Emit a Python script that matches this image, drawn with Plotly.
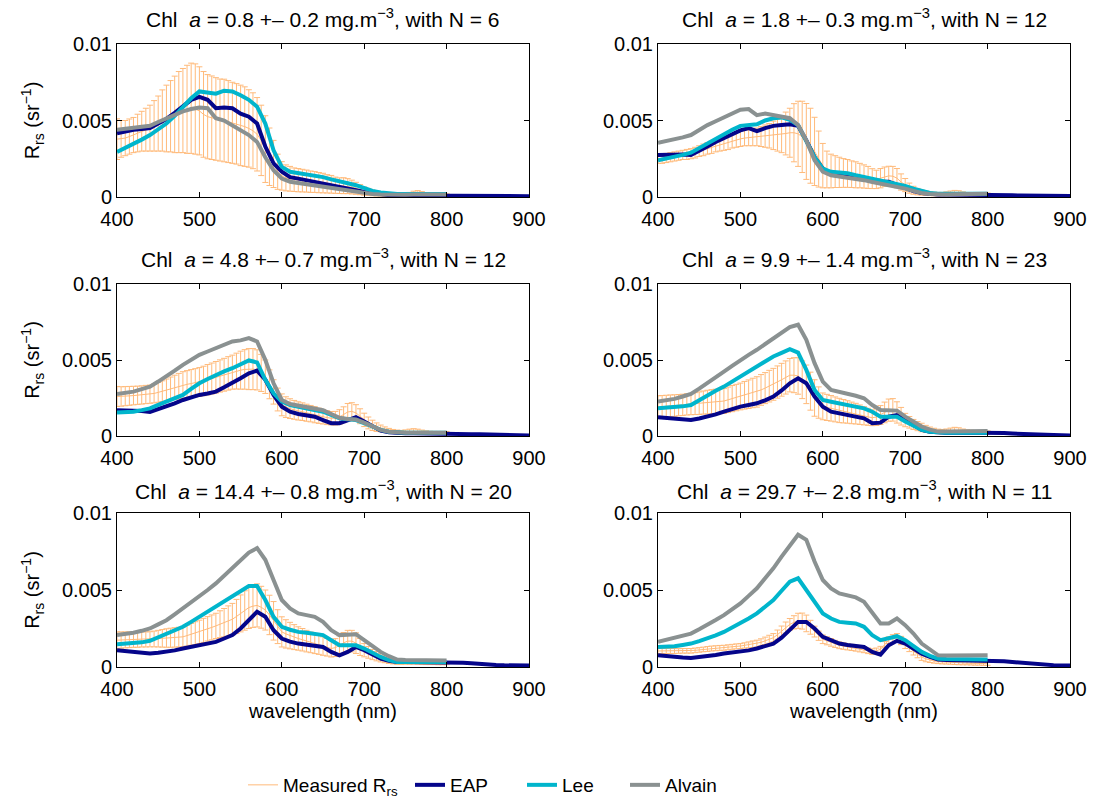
import numpy as np
import plotly.graph_objects as go

# ---------------- data (Rrs values in units of 1e-3 sr^-1) ----------------
SCALE = 1e-3
wl_meas = list(range(400, 805, 5))      # measured spectra, 5 nm
wl_model = list(range(400, 810, 10))    # Lee / Alvain, 10 nm
wl_eap = list(range(400, 910, 10))      # EAP, 10 nm up to 900

chl_mean = [0.8, 1.8, 4.8, 9.9, 14.4, 29.7]
chl_sd = [0.2, 0.3, 0.7, 1.4, 0.8, 2.8]
n_samples = [6, 12, 12, 23, 20, 11]

x_ticks = [400, 500, 600, 700, 800, 900]
y_ticks = [0, 0.005, 0.01]
y_ticktext = ["0", "0.005", "0.01"]

# ---- panel 1 ----
meas_mean_1 = [3.78, 3.8, 3.85, 3.95, 4.05, 4.18, 4.3, 4.4, 4.5, 4.65,
               4.8, 5.0, 5.13, 5.28, 5.4, 5.55, 5.65, 5.73, 5.8, 5.75,
               5.63, 5.4, 5.25, 5.18, 5.1, 5.03, 5.0, 4.93, 4.85, 4.78,
               4.68, 4.6, 4.48, 4.33, 4.1, 3.7, 3.13, 2.63, 2.16, 1.65,
               1.38, 1.25, 1.19, 1.13, 1.1, 1.07, 1.04, 1.0, 0.98, 0.94,
               0.91, 0.86, 0.83, 0.77, 0.74, 0.74, 0.71, 0.65, 0.57, 0.48,
               0.39, 0.33, 0.27, 0.22, 0.18, 0.16, 0.15, 0.14, 0.14, 0.14,
               0.15, 0.18, 0.22, 0.24, 0.2, 0.17, 0.15, 0.14, 0.13, 0.13,
               0.13]
meas_std_1 = [1.33, 1.2, 1.15, 1.15, 1.15, 1.23, 1.3, 1.4, 1.5, 1.65,
              1.8, 2.0, 2.18, 2.33, 2.5, 2.65, 2.75, 2.88, 2.95, 2.95,
              2.88, 2.8, 2.75, 2.73, 2.7, 2.68, 2.7, 2.68, 2.65, 2.63,
              2.63, 2.6, 2.53, 2.48, 2.4, 2.3, 2.18, 1.88, 1.54, 1.15,
              0.93, 0.85, 0.81, 0.77, 0.76, 0.74, 0.72, 0.7, 0.68, 0.66,
              0.64, 0.6, 0.58, 0.53, 0.51, 0.52, 0.49, 0.45, 0.39, 0.33,
              0.27, 0.23, 0.19, 0.15, 0.12, 0.11, 0.1, 0.09, 0.09, 0.09,
              0.1, 0.12, 0.16, 0.18, 0.15, 0.12, 0.1, 0.09, 0.08, 0.08,
              0.08]
eap_1 = [4.16, 4.3, 4.4, 4.45, 4.5, 4.8, 5.1, 5.5, 5.9, 6.35,
         6.55, 6.35, 5.8, 5.85, 5.8, 5.45, 5.25, 4.8, 3.3, 2.2,
         1.65, 1.3, 1.2, 1.1, 1.0, 0.9, 0.77, 0.65, 0.55, 0.45,
         0.33, 0.24, 0.17, 0.12, 0.1, 0.1, 0.1, 0.1, 0.1, 0.1,
         0.1, 0.09, 0.08, 0.07, 0.07, 0.06, 0.06, 0.05, 0.05, 0.05,
         0.05]
lee_1 = [2.95, 3.2, 3.5, 3.75, 4.05, 4.4, 4.8, 5.3, 5.9, 6.45,
         6.9, 6.85, 6.75, 6.95, 6.9, 6.65, 6.35, 5.9, 4.8, 3.05,
         1.97, 1.65, 1.57, 1.5, 1.42, 1.3, 1.15, 1.0, 0.9, 0.77,
         0.58, 0.4, 0.3, 0.22, 0.2, 0.2, 0.2, 0.2, 0.2, 0.2,
         0.2]
alvain_1 = [4.4, 4.45, 4.55, 4.6, 4.65, 4.9, 5.15, 5.4, 5.6, 5.75,
            5.85, 5.8, 5.15, 5.0, 4.7, 4.4, 4.05, 3.6, 2.6, 1.75,
            1.2, 1.0, 0.92, 0.85, 0.77, 0.66, 0.55, 0.5, 0.44, 0.35,
            0.26, 0.2, 0.17, 0.15, 0.15, 0.15, 0.16, 0.16, 0.17, 0.17,
            0.17]

# ---- panel 2 ----
meas_mean_2 = [2.48, 2.5, 2.55, 2.6, 2.65, 2.7, 2.75, 2.78, 2.83, 2.9,
               3.0, 3.08, 3.18, 3.25, 3.35, 3.43, 3.5, 3.58, 3.68, 3.75,
               3.8, 3.85, 3.88, 3.9, 3.93, 3.95, 3.98, 4.0, 4.03, 4.05,
               4.1, 4.15, 4.2, 4.2, 4.13, 3.93, 3.63, 3.35, 2.98, 2.48,
               2.05, 1.8, 1.7, 1.66, 1.61, 1.57, 1.54, 1.49, 1.45, 1.4,
               1.34, 1.28, 1.2, 1.15, 1.23, 1.33, 1.38, 1.36, 1.23, 0.98,
               0.78, 0.58, 0.44, 0.35, 0.29, 0.25, 0.22, 0.2, 0.19, 0.19,
               0.21, 0.24, 0.26, 0.25, 0.21, 0.18, 0.17, 0.17, 0.17, 0.17,
               0.17]
meas_std_2 = [0.28, 0.3, 0.3, 0.3, 0.3, 0.3, 0.3, 0.33, 0.33, 0.35,
              0.35, 0.38, 0.38, 0.4, 0.4, 0.43, 0.45, 0.48, 0.48, 0.5,
              0.5, 0.5, 0.53, 0.55, 0.58, 0.65, 0.73, 0.8, 0.93, 1.05,
              1.2, 1.4, 1.6, 1.9, 2.13, 2.33, 2.48, 2.45, 2.23, 1.83,
              1.45, 1.2, 1.1, 1.04, 0.99, 0.94, 0.91, 0.87, 0.85, 0.8,
              0.76, 0.72, 0.65, 0.6, 0.63, 0.63, 0.63, 0.64, 0.63, 0.53,
              0.43, 0.33, 0.26, 0.21, 0.17, 0.15, 0.13, 0.12, 0.11, 0.11,
              0.13, 0.15, 0.17, 0.16, 0.13, 0.1, 0.09, 0.09, 0.09, 0.09,
              0.09]
eap_2 = [2.75, 2.78, 2.8, 2.78, 2.75, 3.0, 3.3, 3.6, 3.85, 4.1,
         4.35, 4.5, 4.3, 4.5, 4.65, 4.7, 4.75, 4.65, 3.7, 2.6,
         1.85, 1.55, 1.45, 1.35, 1.27, 1.2, 1.1, 1.0, 1.0, 0.77,
         0.55, 0.38, 0.26, 0.2, 0.17, 0.17, 0.17, 0.17, 0.17, 0.17,
         0.17, 0.15, 0.13, 0.11, 0.1, 0.09, 0.08, 0.07, 0.07, 0.06,
         0.06]
lee_2 = [2.4, 2.5, 2.6, 2.75, 2.9, 3.2, 3.5, 3.85, 4.15, 4.4,
         4.65, 4.7, 4.75, 5.0, 5.15, 5.2, 5.05, 4.7, 3.7, 2.6,
         1.85, 1.65, 1.6, 1.55, 1.42, 1.3, 1.18, 1.05, 0.95, 0.87,
         0.72, 0.55, 0.4, 0.26, 0.22, 0.22, 0.22, 0.22, 0.22, 0.22,
         0.22]
alvain_2 = [3.55, 3.65, 3.75, 3.9, 4.05, 4.4, 4.7, 4.95, 5.2, 5.45,
            5.7, 5.75, 5.35, 5.45, 5.35, 5.25, 5.15, 4.7, 3.7, 2.4,
            1.65, 1.42, 1.35, 1.27, 1.18, 1.1, 0.98, 0.87, 0.78, 0.7,
            0.55, 0.4, 0.26, 0.2, 0.15, 0.16, 0.18, 0.19, 0.2, 0.21,
            0.22]

# ---- panel 3 ----
meas_mean_3 = [2.6, 2.6, 2.62, 2.64, 2.66, 2.68, 2.7, 2.73, 2.75, 2.8,
               2.87, 2.95, 3.03, 3.12, 3.2, 3.28, 3.35, 3.4, 3.45, 3.5,
               3.55, 3.62, 3.7, 3.78, 3.86, 3.95, 4.03, 4.12, 4.2, 4.27,
               4.33, 4.38, 4.4, 4.4, 4.35, 4.15, 3.9, 3.4, 2.9, 2.4,
               2.05, 1.9, 1.8, 1.72, 1.65, 1.6, 1.53, 1.47, 1.4, 1.33,
               1.27, 1.21, 1.17, 1.17, 1.25, 1.4, 1.58, 1.62, 1.52, 1.3,
               1.06, 0.86, 0.7, 0.58, 0.5, 0.42, 0.35, 0.3, 0.27, 0.26,
               0.28, 0.31, 0.33, 0.31, 0.27, 0.24, 0.22, 0.21, 0.21, 0.21,
               0.21]
meas_std_3 = [0.66, 0.64, 0.63, 0.62, 0.61, 0.6, 0.6, 0.6, 0.6, 0.62,
              0.65, 0.68, 0.72, 0.76, 0.8, 0.84, 0.88, 0.9, 0.92, 0.93,
              0.95, 0.97, 1.0, 1.02, 1.04, 1.06, 1.08, 1.1, 1.12, 1.18,
              1.25, 1.3, 1.35, 1.35, 1.32, 1.22, 1.1, 0.95, 0.8, 0.75,
              0.72, 0.68, 0.65, 0.62, 0.6, 0.58, 0.56, 0.54, 0.53, 0.5,
              0.48, 0.46, 0.44, 0.45, 0.48, 0.52, 0.56, 0.57, 0.54, 0.49,
              0.44, 0.39, 0.34, 0.28, 0.22, 0.18, 0.15, 0.13, 0.12, 0.11,
              0.12, 0.14, 0.15, 0.14, 0.12, 0.1, 0.09, 0.09, 0.09, 0.09,
              0.09]
eap_3 = [1.7, 1.7, 1.7, 1.65, 1.58, 1.75, 1.93, 2.15, 2.37, 2.55,
         2.7, 2.8, 2.92, 3.2, 3.47, 3.8, 4.13, 4.3, 3.7, 2.7,
         1.93, 1.6, 1.45, 1.35, 1.27, 1.05, 0.84, 0.84, 1.05, 1.23,
         0.95, 0.62, 0.35, 0.24, 0.18, 0.18, 0.18, 0.18, 0.18, 0.18,
         0.18, 0.16, 0.14, 0.12, 0.11, 0.09, 0.08, 0.06, 0.05, 0.05,
         0.04]
lee_3 = [1.54, 1.57, 1.6, 1.7, 1.82, 2.05, 2.26, 2.5, 2.7, 3.1,
         3.47, 3.75, 4.02, 4.25, 4.46, 4.7, 4.97, 4.84, 3.7, 2.81,
         2.26, 2.04, 1.93, 1.82, 1.71, 1.6, 1.38, 1.16, 1.1, 1.05,
         0.84, 0.62, 0.4, 0.28, 0.22, 0.22, 0.22, 0.22, 0.22, 0.22,
         0.22]
alvain_3 = [2.77, 2.85, 2.92, 3.08, 3.25, 3.58, 3.91, 4.3, 4.68, 5.0,
            5.34, 5.56, 5.78, 5.93, 6.22, 6.29, 6.44, 6.22, 5.01, 3.47,
            2.37, 2.1, 2.0, 1.9, 1.8, 1.7, 1.45, 1.2, 1.12, 1.08,
            0.88, 0.64, 0.4, 0.28, 0.22, 0.22, 0.22, 0.22, 0.22, 0.22,
            0.22]

# ---- panel 4 ----
meas_mean_4 = [1.9, 1.92, 1.95, 1.98, 2.0, 2.03, 2.05, 2.08, 2.1, 2.13,
               2.16, 2.2, 2.23, 2.25, 2.27, 2.29, 2.3, 2.38, 2.46, 2.53,
               2.6, 2.68, 2.75, 2.83, 2.9, 3.03, 3.15, 3.28, 3.4, 3.55,
               3.7, 3.85, 4.0, 4.0, 3.95, 3.7, 3.4, 2.95, 2.5, 2.2,
               1.95, 1.88, 1.82, 1.75, 1.68, 1.63, 1.58, 1.52, 1.47, 1.4,
               1.33, 1.26, 1.2, 1.25, 1.38, 1.55, 1.7, 1.72, 1.55, 1.3,
               1.05, 0.9, 0.76, 0.65, 0.56, 0.47, 0.4, 0.34, 0.3, 0.29,
               0.31, 0.35, 0.38, 0.36, 0.31, 0.28, 0.26, 0.25, 0.25, 0.24,
               0.24]
meas_std_4 = [0.75, 0.74, 0.73, 0.72, 0.71, 0.7, 0.7, 0.7, 0.7, 0.72,
              0.74, 0.76, 0.78, 0.8, 0.81, 0.82, 0.82, 0.84, 0.86, 0.87,
              0.88, 0.91, 0.94, 0.97, 1.0, 1.01, 1.02, 1.04, 1.05, 1.06,
              1.08, 1.09, 1.1, 1.15, 1.2, 1.24, 1.27, 1.25, 1.2, 1.03,
              0.88, 0.86, 0.84, 0.82, 0.8, 0.77, 0.74, 0.71, 0.68, 0.64,
              0.6, 0.56, 0.52, 0.56, 0.62, 0.68, 0.73, 0.74, 0.7, 0.58,
              0.44, 0.38, 0.33, 0.3, 0.28, 0.23, 0.19, 0.17, 0.15, 0.14,
              0.15, 0.17, 0.19, 0.18, 0.15, 0.13, 0.12, 0.11, 0.11, 0.1,
              0.1]
eap_4 = [1.23, 1.2, 1.16, 1.1, 1.05, 1.15, 1.27, 1.42, 1.6, 1.77,
         1.93, 2.04, 2.15, 2.35, 2.59, 3.0, 3.47, 3.8, 3.47, 2.59,
         1.93, 1.6, 1.48, 1.38, 1.27, 1.16, 0.84, 0.88, 1.27, 1.38,
         1.05, 0.7, 0.4, 0.28, 0.22, 0.22, 0.23, 0.23, 0.24, 0.24,
         0.24, 0.22, 0.19, 0.16, 0.13, 0.11, 0.09, 0.07, 0.06, 0.05,
         0.04]
lee_4 = [1.82, 1.85, 1.89, 1.95, 2.04, 2.37, 2.7, 2.98, 3.25, 3.58,
         3.91, 4.24, 4.57, 4.9, 5.23, 5.47, 5.71, 5.49, 4.35, 3.03,
         2.37, 2.25, 2.15, 2.06, 1.98, 1.82, 1.6, 1.27, 1.27, 1.27,
         0.95, 0.65, 0.4, 0.28, 0.22, 0.22, 0.22, 0.22, 0.22, 0.22,
         0.22]
alvain_4 = [2.26, 2.35, 2.44, 2.6, 2.77, 3.12, 3.47, 3.85, 4.24, 4.62,
            5.01, 5.34, 5.67, 6.05, 6.44, 6.8, 7.16, 7.32, 6.33, 4.79,
            3.58, 3.03, 2.92, 2.81, 2.65, 2.48, 2.04, 1.71, 1.69, 1.67,
            1.27, 0.95, 0.62, 0.42, 0.29, 0.3, 0.31, 0.32, 0.32, 0.33,
            0.33]

# ---- panel 5 ----
meas_mean_5 = [1.74, 1.75, 1.76, 1.77, 1.78, 1.78, 1.79, 1.79, 1.8, 1.82,
               1.84, 1.86, 1.88, 1.9, 1.92, 1.94, 1.96, 2.04, 2.12, 2.2,
               2.28, 2.38, 2.48, 2.57, 2.67, 2.78, 2.88, 2.99, 3.1, 3.28,
               3.48, 3.67, 3.86, 3.95, 4.0, 3.88, 3.7, 3.38, 3.0, 2.62,
               2.28, 2.15, 2.04, 1.94, 1.85, 1.77, 1.68, 1.6, 1.52, 1.44,
               1.36, 1.28, 1.2, 1.26, 1.4, 1.57, 1.68, 1.68, 1.55, 1.3,
               1.09, 0.95, 0.81, 0.7, 0.6, 0.5, 0.41, 0.35, 0.3, 0.29,
               0.3, 0.31, 0.32, 0.31, 0.29, 0.27, 0.26, 0.26, 0.25, 0.25,
               0.25]
meas_std_5 = [0.54, 0.53, 0.52, 0.51, 0.5, 0.5, 0.49, 0.49, 0.49, 0.51,
              0.54, 0.57, 0.6, 0.62, 0.63, 0.64, 0.65, 0.68, 0.71, 0.74,
              0.76, 0.78, 0.79, 0.81, 0.82, 0.87, 0.92, 0.98, 1.03, 1.11,
              1.2, 1.28, 1.36, 1.38, 1.4, 1.36, 1.3, 1.28, 1.25, 1.1,
              0.98, 0.92, 0.86, 0.81, 0.76, 0.73, 0.7, 0.67, 0.65, 0.62,
              0.6, 0.57, 0.55, 0.58, 0.62, 0.67, 0.7, 0.7, 0.67, 0.55,
              0.43, 0.38, 0.33, 0.3, 0.27, 0.22, 0.18, 0.15, 0.13, 0.12,
              0.12, 0.13, 0.13, 0.13, 0.12, 0.11, 0.1, 0.1, 0.1, 0.1,
              0.1]
eap_5 = [1.09, 1.03, 0.98, 0.92, 0.87, 0.92, 0.98, 1.08, 1.2, 1.3,
         1.41, 1.52, 1.63, 1.85, 2.07, 2.5, 3.04, 3.59, 3.26, 2.39,
         1.85, 1.65, 1.52, 1.45, 1.41, 1.3, 0.98, 0.76, 0.98, 1.3,
         1.09, 0.8, 0.54, 0.4, 0.33, 0.33, 0.33, 0.33, 0.33, 0.33,
         0.33, 0.33, 0.28, 0.24, 0.19, 0.15, 0.13, 0.11, 0.1, 0.09,
         0.09]
lee_5 = [1.48, 1.5, 1.52, 1.6, 1.7, 1.93, 2.17, 2.39, 2.61, 2.93,
         3.26, 3.58, 3.91, 4.24, 4.57, 4.91, 5.26, 5.26, 4.35, 3.26,
         2.61, 2.42, 2.28, 2.22, 2.17, 2.07, 1.74, 1.41, 1.41, 1.41,
         1.2, 0.92, 0.65, 0.45, 0.33, 0.33, 0.33, 0.33, 0.33, 0.33,
         0.33]
alvain_5 = [2.07, 2.14, 2.22, 2.35, 2.5, 2.77, 3.04, 3.42, 3.8, 4.18,
            4.57, 5.0, 5.43, 5.92, 6.41, 6.92, 7.43, 7.72, 6.96, 5.65,
            4.35, 3.8, 3.48, 3.37, 3.26, 2.93, 2.39, 2.07, 2.1, 2.13,
            1.74, 1.35, 0.98, 0.7, 0.48, 0.46, 0.45, 0.44, 0.44, 0.43,
            0.43]

# ---- panel 6 ----
meas_mean_6 = [1.04, 1.04, 1.04, 1.04, 1.04, 1.04, 1.05, 1.05, 1.05, 1.08,
               1.11, 1.14, 1.17, 1.2, 1.22, 1.24, 1.25, 1.28, 1.31, 1.34,
               1.36, 1.4, 1.44, 1.48, 1.52, 1.6, 1.7, 1.8, 1.9, 2.1,
               2.33, 2.56, 2.77, 2.9, 3.0, 2.98, 2.83, 2.58, 2.3, 2.03,
               1.8, 1.7, 1.6, 1.5, 1.41, 1.36, 1.31, 1.27, 1.22, 1.17,
               1.11, 1.05, 1.0, 1.05, 1.15, 1.45, 1.74, 1.85, 1.9, 1.72,
               1.47, 1.25, 1.02, 0.83, 0.65, 0.53, 0.45, 0.39, 0.35, 0.33,
               0.31, 0.3, 0.28, 0.27, 0.26, 0.25, 0.24, 0.23, 0.23, 0.22,
               0.22]
meas_std_6 = [0.17, 0.17, 0.16, 0.16, 0.16, 0.15, 0.15, 0.15, 0.15, 0.15,
              0.15, 0.15, 0.16, 0.16, 0.16, 0.16, 0.16, 0.16, 0.16, 0.16,
              0.16, 0.17, 0.19, 0.21, 0.22, 0.23, 0.24, 0.26, 0.27, 0.3,
              0.33, 0.36, 0.38, 0.43, 0.49, 0.52, 0.54, 0.45, 0.35, 0.3,
              0.28, 0.26, 0.25, 0.23, 0.22, 0.21, 0.2, 0.2, 0.19, 0.19,
              0.18, 0.18, 0.18, 0.18, 0.19, 0.2, 0.22, 0.25, 0.27, 0.27,
              0.27, 0.25, 0.24, 0.23, 0.22, 0.19, 0.16, 0.14, 0.13, 0.13,
              0.12, 0.12, 0.12, 0.12, 0.12, 0.11, 0.11, 0.11, 0.11, 0.11,
              0.11]
eap_6 = [0.76, 0.7, 0.65, 0.62, 0.59, 0.64, 0.7, 0.78, 0.87, 0.93,
         0.98, 1.08, 1.2, 1.35, 1.52, 1.9, 2.39, 2.93, 2.93, 2.5,
         1.96, 1.72, 1.52, 1.43, 1.37, 1.3, 0.98, 0.8, 1.41, 1.7,
         1.52, 1.2, 0.87, 0.65, 0.48, 0.46, 0.45, 0.44, 0.44, 0.43,
         0.43, 0.4, 0.37, 0.32, 0.27, 0.22, 0.18, 0.15, 0.12, 0.1,
         0.09]
lee_6 = [1.3, 1.32, 1.35, 1.43, 1.52, 1.68, 1.85, 2.06, 2.28, 2.55,
         2.83, 3.15, 3.48, 3.9, 4.35, 4.95, 5.54, 5.76, 5.0, 4.13,
         3.48, 3.15, 2.93, 2.88, 2.83, 2.61, 2.07, 1.74, 1.85, 2.0,
         1.74, 1.35, 0.98, 0.72, 0.54, 0.52, 0.5, 0.5, 0.49, 0.48,
         0.48]
alvain_6 = [1.63, 1.76, 1.89, 2.03, 2.17, 2.45, 2.72, 3.05, 3.37, 3.75,
            4.13, 4.62, 5.11, 5.76, 6.41, 7.17, 7.93, 8.59, 8.26, 6.85,
            5.65, 5.1, 4.78, 4.65, 4.52, 4.24, 3.48, 2.83, 2.83, 3.15,
            2.72, 2.17, 1.52, 1.1, 0.76, 0.74, 0.74, 0.75, 0.75, 0.76,
            0.76]

meas_mean = [meas_mean_1, meas_mean_2, meas_mean_3, meas_mean_4, meas_mean_5, meas_mean_6]
meas_std = [meas_std_1, meas_std_2, meas_std_3, meas_std_4, meas_std_5, meas_std_6]
eap = [eap_1, eap_2, eap_3, eap_4, eap_5, eap_6]
lee = [lee_1, lee_2, lee_3, lee_4, lee_5, lee_6]
alvain = [alvain_1, alvain_2, alvain_3, alvain_4, alvain_5, alvain_6]

# ---------------- styling ----------------
W, H = 1101, 800
FONT = "Liberation Sans, Arial, Helvetica, sans-serif"
C_MEAS = "rgb(255,186,122)"
C_EAP = "#05058a"
C_LEE = "#00b5cc"
C_ALV = "#8a9191"
LW = 4
FS = 20

col_px = [(117, 529), (658, 1070)]
row_px = [(44, 197), (284, 436), (513, 667)]
title_px = [18, 258, 490]

def px_x(p):
    return p / W

def px_y(p):
    return 1 - p / H

fig = go.Figure()
layout = dict(
    width=W, height=H,
    margin=dict(l=0, r=0, t=0, b=0, pad=0, autoexpand=False),
    paper_bgcolor="white", plot_bgcolor="white",
    font=dict(family=FONT, size=FS, color="black"),
    annotations=[],
)

for i in range(6):
    r, c = divmod(i, 2)
    k = i + 1
    xn = "x" if k == 1 else f"x{k}"
    yn = "y" if k == 1 else f"y{k}"
    first = (i == 0)

    fig.add_trace(go.Scatter(
        x=wl_meas, y=np.array(meas_mean[i]) * SCALE,
        error_y=dict(type="data", array=np.array(meas_std[i]) * SCALE,
                     color=C_MEAS, thickness=1, width=3),
        mode="lines", line=dict(color=C_MEAS, width=1),
        name="Measured R<sub>rs</sub>", showlegend=first, legend="legend",
        xaxis=xn, yaxis=yn))
    fig.add_trace(go.Scatter(
        x=wl_eap, y=np.array(eap[i]) * SCALE, mode="lines",
        line=dict(color=C_EAP, width=LW), name="EAP",
        showlegend=first, legend="legend2", xaxis=xn, yaxis=yn))
    fig.add_trace(go.Scatter(
        x=wl_model, y=np.array(lee[i]) * SCALE, mode="lines",
        line=dict(color=C_LEE, width=LW), name="Lee",
        showlegend=first, legend="legend3", xaxis=xn, yaxis=yn))
    fig.add_trace(go.Scatter(
        x=wl_model, y=np.array(alvain[i]) * SCALE, mode="lines",
        line=dict(color=C_ALV, width=LW), name="Alvain",
        showlegend=first, legend="legend4", xaxis=xn, yaxis=yn))

    xd = [px_x(col_px[c][0]), px_x(col_px[c][1])]
    yd = [px_y(row_px[r][1]), px_y(row_px[r][0])]
    xa = dict(domain=xd, anchor=yn, range=[400, 900], tickvals=x_ticks,
              ticks="inside", ticklen=5, tickcolor="black", mirror="ticks",
              showline=True, linecolor="black", linewidth=1,
              showgrid=False, zeroline=False, automargin=False,
              tickfont=dict(size=FS, family=FONT), ticklabelstandoff=4)
    if r == 2:
        xa["title"] = dict(text="wavelength (nm)", font=dict(size=FS, family=FONT), standoff=2)
    ya = dict(domain=yd, anchor=xn, range=[0, 0.01], tickvals=y_ticks,
              ticktext=y_ticktext,
              ticks="inside", ticklen=5, tickcolor="black", mirror="ticks",
              showline=True, linecolor="black", linewidth=1,
              showgrid=False, zeroline=False, automargin=False,
              tickfont=dict(size=FS, family=FONT))
    if c == 0:
        ya["title"] = dict(text="R<sub>rs</sub> (sr<sup>\u22121</sup>)",
                           font=dict(size=FS, family=FONT), standoff=16)
    layout["xaxis" if k == 1 else f"xaxis{k}"] = xa
    layout["yaxis" if k == 1 else f"yaxis{k}"] = ya

    title = (f"Chl\u00a0 <i>a</i> = {chl_mean[i]} +\u2013 {chl_sd[i]} "
             f"mg.m<sup>\u22123</sup>, with N = {n_samples[i]}")
    layout["annotations"].append(dict(
        text=title, xref="paper", yref="paper",
        x=(xd[0] + xd[1]) / 2, y=px_y(title_px[r]),
        xanchor="center", yanchor="middle", showarrow=False,
        font=dict(size=21, family=FONT)))

leg_common = dict(orientation="h", yanchor="middle", y=px_y(785), xanchor="left",
                  bgcolor="rgba(0,0,0,0)", font=dict(size=19, family=FONT))
layout["legend"] = dict(x=px_x(243), **leg_common)
layout["legend2"] = dict(x=px_x(410), **leg_common)
layout["legend3"] = dict(x=px_x(522), **leg_common)
layout["legend4"] = dict(x=px_x(625), **leg_common)

fig.update_layout(**layout)
fig.write_html("out.html")
